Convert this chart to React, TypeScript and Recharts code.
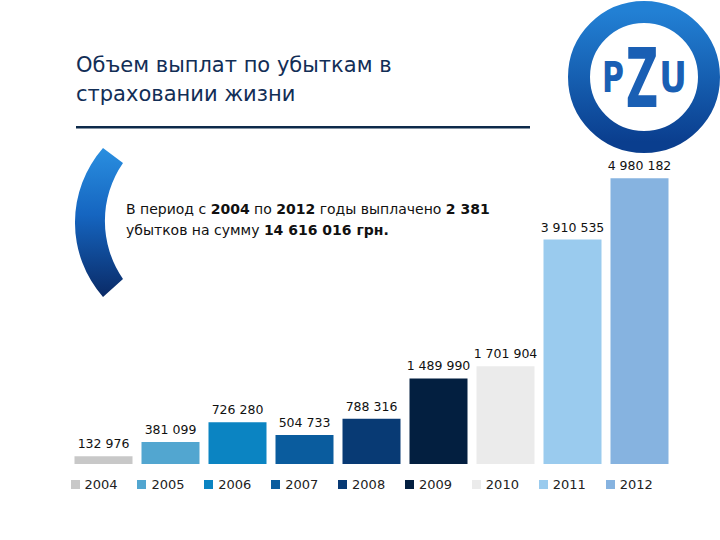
import { BarChart, Bar, XAxis, YAxis, Cell, LabelList, Legend } from "recharts"

const YEARS = ["2004", "2005", "2006", "2007", "2008", "2009", "2010", "2011", "2012"]
const PAYOUTS = [132976, 381099, 726280, 504733, 788316, 1489990, 1701904, 3910535, 4980182]
const COLORS = ["#c8c8c8", "#52a6d0", "#0b84c2", "#0a5c9e", "#083a74", "#031f40", "#ebebeb", "#9acbee", "#86b3e0"]
const Y_MAX = 5000000

const TITLE = ["Объем выплат по убыткам в", "страховании жизни"]

const FONT = "'DejaVu Sans', Verdana, sans-serif"

// 132976 -> "132 976"
const fmt = (v: number) => String(v).replace(/\B(?=(\d{3})+(?!\d))/g, " ")

const chartData = YEARS.map((year, i) => ({ year, value: PAYOUTS[i] }))

function LegendRow() {
  return (
    <div style={{ height: 40, paddingTop: 12, boxSizing: "border-box", display: "flex", paddingLeft: 1 }}>
      {YEARS.map((y, i) => (
        <div key={y} style={{ width: 69, display: "flex", alignItems: "center", height: 16 }}>
          <span style={{ width: 9, height: 9, background: COLORS[i], marginRight: 5, display: "inline-block" }} />
          <span style={{ fontFamily: FONT, fontSize: 13, color: "#222" }}>{y}</span>
        </div>
      ))}
    </div>
  )
}

// single-line label over each bar (the default one wraps to bar width)
function ValueLabel(props: any) {
  const { x, y, width, value } = props
  return (
    <text x={Number(x) + Number(width) / 2} y={Number(y) - 8} textAnchor="middle" fontFamily={FONT} fontSize={12.5} fill="#111">
      {fmt(Number(value))}
    </text>
  )
}

function Decor() {
  return (
    <svg width={720} height={540} style={{ position: "absolute", left: 0, top: 0, pointerEvents: "none" }}>
      <defs>
        <linearGradient id="arcGrad" x1="0" y1="0" x2="0" y2="1">
          <stop offset="0%" stopColor="#2a8fe0" />
          <stop offset="45%" stopColor="#1565c0" />
          <stop offset="100%" stopColor="#0a2a66" />
        </linearGradient>
        <linearGradient id="ringGrad" x1="0" y1="0" x2="0" y2="1">
          <stop offset="0%" stopColor="#2280d4" />
          <stop offset="100%" stopColor="#0a3e8e" />
        </linearGradient>
      </defs>

      {/* title */}
      <text x={76} y={72} fontFamily={FONT} fontSize={21} fill="#122e56">{TITLE[0]}</text>
      <text x={76} y={101} fontFamily={FONT} fontSize={21} fill="#122e56">{TITLE[1]}</text>
      <rect x={76} y={126} width={454} height={2.5} fill="#0d2a4a" />

      {/* blue arc */}
      <path d="M 103 148 A 113 113 0 0 0 103 297 L 123 279 A 102 102 0 0 1 123 163 Z" fill="url(#arcGrad)" />

      {/* note */}
      <text x={126} y={214} fontFamily={FONT} fontSize={14} fill="#111">
        В период с <tspan fontWeight="bold">2004</tspan> по <tspan fontWeight="bold">2012</tspan> годы выплачено{" "}
        <tspan fontWeight="bold">2 381</tspan>
      </text>
      <text x={126} y={235} fontFamily={FONT} fontSize={14} fill="#111">
        убытков на сумму <tspan fontWeight="bold">14 616 016 грн.</tspan>
      </text>

      {/* PZU logo */}
      <circle cx={644} cy={77} r={65} fill="#fff" stroke="url(#ringGrad)" strokeWidth={22} />
      <text transform="translate(613,92) scale(0.75,1.05)" textAnchor="middle" fontFamily={FONT} fontWeight="bold" fontSize={40} fill="#1a5fb4">P</text>
      <text transform="translate(642,107) scale(0.75,1.36)" textAnchor="middle" fontFamily={FONT} fontWeight="bold" fontSize={60} fill="#1a5fb4">Z</text>
      <text transform="translate(673,92) scale(0.85,1.05)" textAnchor="middle" fontFamily={FONT} fontWeight="bold" fontSize={40} fill="#1a5fb4">U</text>
    </svg>
  )
}

export default function App() {
  return (
    <div style={{ position: "absolute", left: 0, top: 0, width: 720, height: 540, background: "#fff", overflow: "hidden" }}>
      <BarChart width={720} height={540} data={chartData} margin={{ top: 177, right: 47.5, left: 69.5, bottom: 36 }}>
        <XAxis dataKey="year" hide />
        <YAxis hide domain={[0, Y_MAX]} />
        <Legend verticalAlign="bottom" layout="horizontal" content={() => <LegendRow />} />
        <Bar dataKey="value" barSize={58} isAnimationActive={false}>
          {chartData.map((d, i) => (
            <Cell key={d.year} fill={COLORS[i]} />
          ))}
          <LabelList dataKey="value" content={ValueLabel} />
        </Bar>
      </BarChart>
      <Decor />
    </div>
  )
}
